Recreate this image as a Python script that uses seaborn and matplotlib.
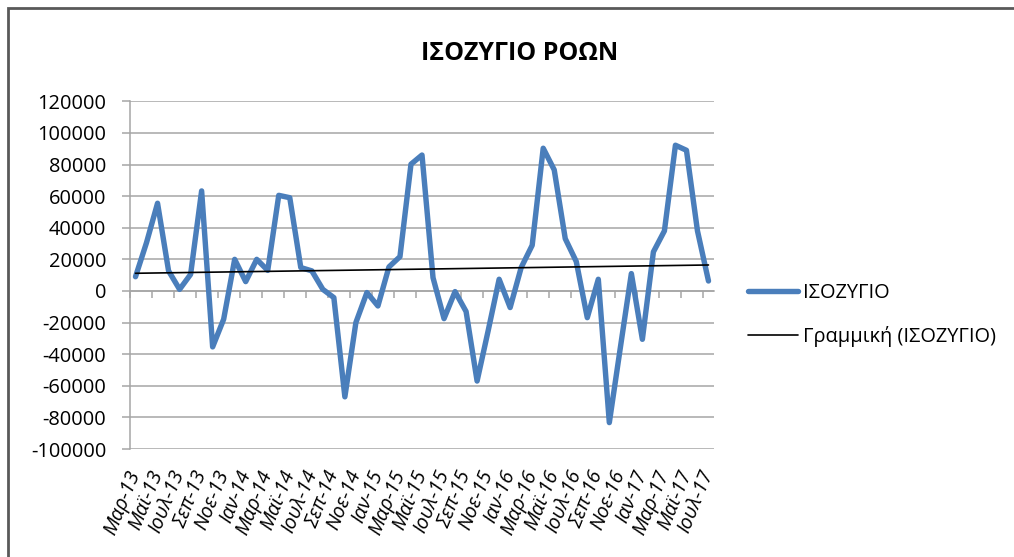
import numpy as np
import pandas as pd
import matplotlib
matplotlib.use("Agg")
import matplotlib.pyplot as plt
from matplotlib.patches import Rectangle
from matplotlib.ticker import FixedLocator, NullFormatter
import seaborn as sns

# ---- data ----
months = ["Μαρ", "Απρ", "Μαϊ", "Ιουν", "Ιουλ", "Αυγ", "Σεπ", "Οκτ", "Νοε", "Δεκ", "Ιαν", "Φεβ"]
categories = []
for k in range(53):
    name = months[k % 12]
    yr = 13 + (k + 2) // 12
    categories.append(f"{name}-{yr}")

balance = [9000, 30600, 55500, 12700, 1000, 10500, 63300, -35400, -17900, 20000,
           5900, 20000, 13000, 60500, 59000, 14800, 12700, 1000, -4200, -67000,
           -20000, -1000, -9500, 15200, 21700, 80200, 86000, 8400, -17500, -400,
           -13000, -57000, -25300, 7400, -10500, 14800, 28900, 90300, 76600, 33100,
           18600, -16900, 7400, -83300, -35900, 11000, -30600, 24700, 38000, 92200,
           89000, 38000, 6300]

yticks = list(range(-100000, 120001, 20000))
title = "ΙΣΟΖΥΓΙΟ ΡΟΩΝ"
series_label = "ΙΣΟΖΥΓΙΟ"
trend_label = "Γραμμική (ΙΣΟΖΥΓΙΟ)"

df = pd.DataFrame({"idx": np.arange(len(balance)), "cat": categories, "value": balance})

# ---- style ----
sns.set_style("white")
plt.rcParams["font.family"] = ["Open Sans", "DejaVu Sans"]
plt.rcParams["axes.unicode_minus"] = False
plt.rcParams["text.color"] = "black"
plt.rcParams["xtick.color"] = "black"
plt.rcParams["ytick.color"] = "black"

W, H = 1014, 557
fig = plt.figure(figsize=(W / 100, H / 100), dpi=100)
ax = fig.add_axes([130 / W, 1 - 449 / H, (714 - 130) / W, (449 - 101.3) / H])

grid_color = "#A6A6A6"
blue = "#4A7EBB"

sns.lineplot(data=df, x="idx", y="value", ax=ax, color=blue, linewidth=3.9,
             label=series_label, zorder=3)
sns.regplot(data=df, x="idx", y="value", ax=ax, scatter=False, ci=None,
            truncate=True, color="black", label=trend_label,
            line_kws={"linewidth": 1.2, "zorder": 4})

ax.set_xlim(-0.5, len(balance) - 0.5)
ax.set_ylim(yticks[0], yticks[-1])
ax.set_yticks(yticks)
ax.set_yticklabels([str(v) for v in yticks])
ax.yaxis.grid(True, color=grid_color, linewidth=1.1)
ax.set_axisbelow(True)

for s in ["top", "right", "bottom"]:
    ax.spines[s].set_visible(False)
ax.spines["left"].set_color(grid_color)
ax.spines["left"].set_linewidth(1.1)
ax.tick_params(axis="y", which="major", length=6, width=1.1, color=grid_color,
               pad=11, labelsize=14.4, labelcolor="black", left=True)

# x labels at bottom (every 2 categories)
lab_idx = df["idx"].values[::2]
ax.set_xticks(lab_idx)
ax.set_xticklabels(df["cat"].values[::2], rotation=68, ha="right", va="center",
                   rotation_mode="anchor", fontstyle="italic", fontsize=14.4)
ax.tick_params(axis="x", length=0, pad=16)
ax.set_xlabel("")
ax.set_ylabel("")

# category axis crossing at zero with tick marks between categories
ymin, ymax = ax.get_ylim()
sec = ax.secondary_xaxis((0 - ymin) / (ymax - ymin))
sec.spines["bottom"].set_color(grid_color)
sec.spines["bottom"].set_linewidth(1.1)
sec.xaxis.set_major_locator(FixedLocator(np.arange(-0.5, len(balance) - 0.5, 2)))
sec.xaxis.set_major_formatter(NullFormatter())
sec.tick_params(axis="x", length=5, width=1.1, color=grid_color, direction="out")

# legend
handles, labels = ax.get_legend_handles_labels()
if ax.legend_:
    ax.legend_.remove()
fig.legend(handles, labels, loc="center left", bbox_to_anchor=(748 / W, 1 - 315 / H),
           frameon=False, fontsize=14.4, handlelength=2.5, handletextpad=0.25,
           labelspacing=1.15, borderpad=0, borderaxespad=0)

fig.text(520 / W, 1 - 54 / H, title, ha="center", va="center", fontsize=18, fontweight="bold")

# chart-area border
fig.patches.append(Rectangle((8 / W, -0.2), 1.2, 1.2 - 8 / H, transform=fig.transFigure,
                             fill=False, edgecolor="#595959", linewidth=2, zorder=10))

fig.savefig("out.png", dpi=100, facecolor="white")
